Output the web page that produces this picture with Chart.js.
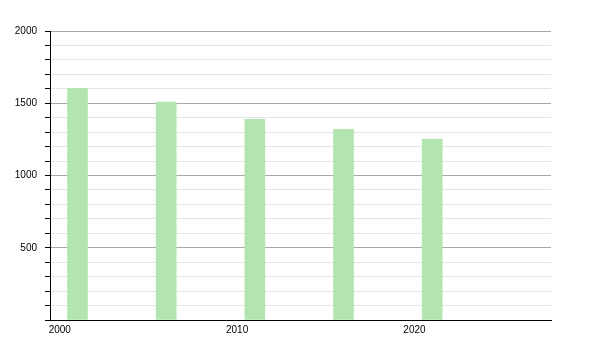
<!DOCTYPE html>
<html>
<head>
<meta charset="utf-8">
<script src="https://cdn.jsdelivr.net/npm/chart.js@4"></script>
<style>
  body { margin: 0; background: #fff; }
  #chart { display: block; }
</style>
</head>
<body>
<canvas id="chart" width="600" height="350"></canvas>
<script>
// datos
const years = [2001, 2006, 2011, 2016, 2021];
const values = [1602, 1508, 1388, 1319, 1252];
const xTicks = [2000, 2010, 2020];
const yLabels = [500, 1000, 1500, 2000];

const font = { family: 'Liberation Sans, Arial, sans-serif', size: 10 };

const chart = new Chart(document.getElementById('chart'), {
  type: 'bar',
  data: {
    datasets: [{
      data: years.map((y, i) => ({ x: y, y: values[i] })),
      backgroundColor: '#b2e5b0',
      borderWidth: 0,
      barThickness: 20
    }]
  },
  options: {
    responsive: false,
    animation: false,
    layout: { padding: { top: 31, right: 49, left: 0, bottom: 0 } },
    plugins: { legend: { display: false }, tooltip: { enabled: false } },
    scales: {
      x: {
        type: 'linear',
        offset: false,
        min: 1999.45,
        max: 2027.7,
        afterBuildTicks: axis => { axis.ticks = xTicks.map(v => ({ value: v })); },
        afterFit: axis => { axis.height = 30; },
        grid: { display: false, drawTicks: false, offset: false },
        border: { color: '#000', width: 1 },
        ticks: {
          color: '#000',
          font: font,
          padding: 4,
          maxRotation: 0,
          callback: v => String(v)
        }
      },
      y: {
        min: 0,
        max: 2000,
        afterFit: axis => { axis.width = 50; },
        grid: {
          color: ctx => (ctx.tick && ctx.tick.value % 500 === 0) ? '#a8a8a8' : '#e4e4e4',
          tickColor: '#000',
          tickLength: 5
        },
        border: { color: '#000', width: 1 },
        ticks: {
          stepSize: 100,
          color: '#000',
          font: font,
          padding: 8,
          autoSkip: false,
          callback: v => yLabels.includes(v) ? String(v) : ''
        }
      }
    }
  }
});
</script>
</body>
</html>
